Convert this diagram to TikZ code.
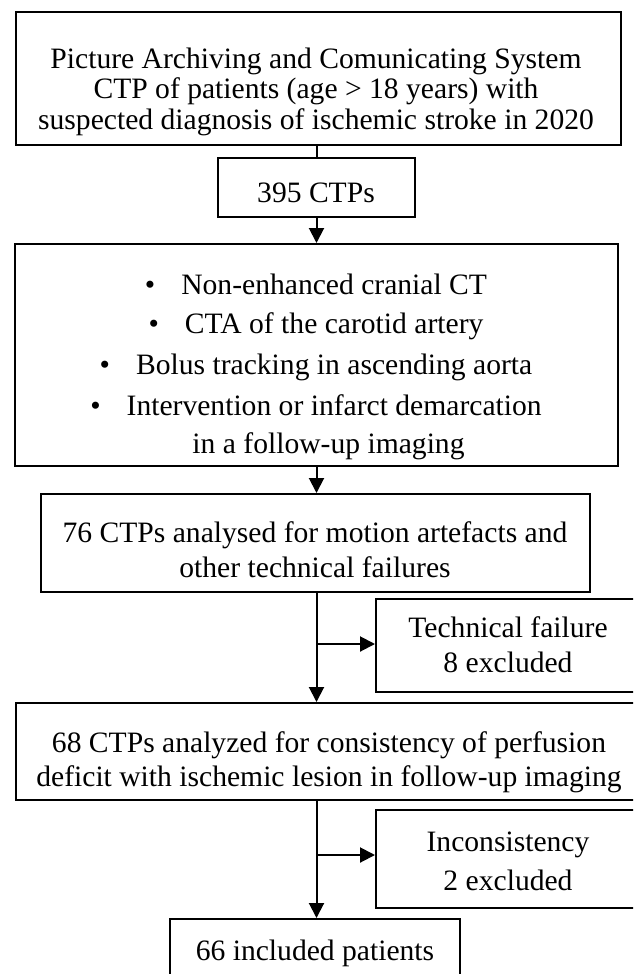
\documentclass[tikz,border=0pt]{standalone}
\usepackage{fontspec}
\setmainfont{Liberation Serif}
\usetikzlibrary{arrows.meta}
\begin{document}
\begin{tikzpicture}[x=1pt,y=-1pt,
  box/.style={draw, line width=2pt, rectangle, inner sep=0pt},
  txt/.style={anchor=base, inner sep=0pt, font=\fontsize{29.6}{34}\selectfont},
  link/.style={line width=2pt},
  arr/.style={link, -{Triangle[length=15pt,width=15pt]}}]
\useasboundingbox (0,0) rectangle (633,974);
\fill[white] (0,0) rectangle (633,974);
\clip (0,0) rectangle (633,974);

% boxes
\node[box, minimum width=605pt, minimum height=133pt] (src)      at (318.5,78.5) {};
\node[box, minimum width=197pt, minimum height=59pt]  (ctp)      at (316.5,187.5) {};
\node[box, minimum width=603pt, minimum height=222pt] (crit)     at (316.5,355) {};
\node[box, minimum width=549pt, minimum height=98pt]  (motion)   at (315.5,543) {};
\node[box, minimum width=269pt, minimum height=93pt]  (techfail) at (510.5,645.5) {};
\node[box, minimum width=629pt, minimum height=97pt]  (consist)  at (330.5,751.5) {};
\node[box, minimum width=269pt, minimum height=98pt]  (incons)   at (510.5,859) {};
\node[box, minimum width=290pt, minimum height=76pt]  (incl)     at (315,957) {};

% texts
\node[txt] (t1a) at (316,68)  {Picture Archiving and Comunicating System};
\node[txt] (t1b) at (316,98)  {CTP of patients (age > 18 years) with};
\node[txt] (t1c) at (316,129) {suspected diagnosis of ischemic stroke in 2020};
\node[txt] (t2)  at (316,202) {395 CTPs};
\node[txt] (t3a) at (316,294) {•\hspace{26pt}Non-enhanced cranial CT};
\node[txt] (t3b) at (316,333) {•\hspace{26pt}CTA of the carotid artery};
\node[txt] (t3c) at (316,374) {•\hspace{26pt}Bolus tracking in ascending aorta};
\node[txt] (t3d) at (316,415) {•\hspace{26pt}Intervention or infarct demarcation};
\node[txt] (t3e) at (328.5,453) {in a follow-up imaging};
\node[txt] (t4a) at (315,542) {76 CTPs analysed for motion artefacts and};
\node[txt] (t4b) at (315,577) {other technical failures};
\node[txt] (t5a) at (508,637) {Technical failure};
\node[txt] (t5b) at (508,672) {8 excluded};
\node[txt] (t6a) at (329,752) {68 CTPs analyzed for consistency of perfusion};
\node[txt] (t6b) at (329,786) {deficit with ischemic lesion in follow-up imaging};
\node[txt] (t7a) at (508,851) {Inconsistency};
\node[txt] (t7b) at (508,890) {2 excluded};
\node[txt] (t8)  at (315,960) {66 included patients};

% connectors
\coordinate (j1) at (316.5,644);
\coordinate (j2) at (316.5,855);
\draw[link] (ctp.north |- src.south) -- (ctp.north);
\draw[arr] (ctp.south) -- (ctp.south |- crit.north);
\draw[arr] (ctp.south |- crit.south) -- (ctp.south |- motion.north);
\draw[arr] (ctp.south |- motion.south) -- (ctp.south |- consist.north);
\draw[arr] (j1) -- (j1 -| techfail.west);
\draw[arr] (ctp.south |- consist.south) -- (ctp.south |- incl.north);
\draw[arr] (j2) -- (j2 -| incons.west);
\end{tikzpicture}
\end{document}
